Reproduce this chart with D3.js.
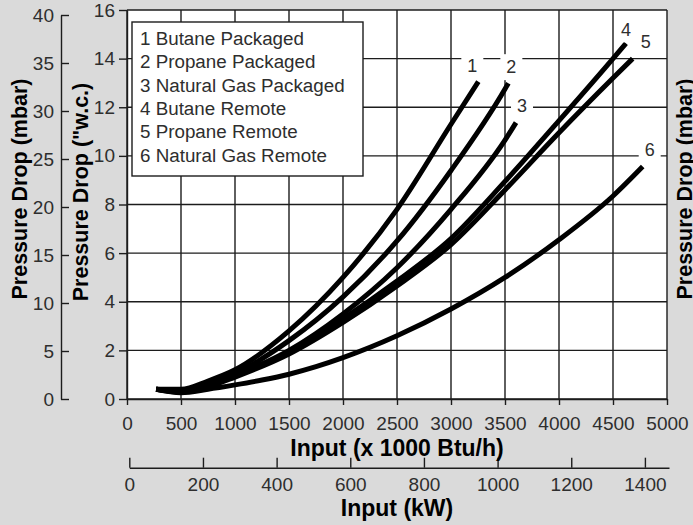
<!DOCTYPE html>
<html>
<head>
<meta charset="utf-8">
<script src="https://cdn.jsdelivr.net/npm/d3@7"></script>
<style>
  html, body { margin: 0; padding: 0; background: #dadada; }
  svg { display: block; }
  text { font-family: "Liberation Sans", Arial, Helvetica, sans-serif; }
</style>
</head>
<body>
<svg id="chart" width="693" height="525"></svg>
<script>
// Tick values for the four scales
const btuTicks = [0, 500, 1000, 1500, 2000, 2500, 3000, 3500, 4000, 4500, 5000];
const kwTicks = [0, 200, 400, 600, 800, 1000, 1200, 1400];
const wcTicks = [0, 2, 4, 6, 8, 10, 12, 14, 16];
const mbarTicks = [0, 5, 10, 15, 20, 25, 30, 35, 40];

// Curve numbers and legend names
const curveIds = ["1", "2", "3", "4", "5", "6"];
const curveNames = [
  "Butane Packaged",
  "Propane Packaged",
  "Natural Gas Packaged",
  "Butane Remote",
  "Propane Remote",
  "Natural Gas Remote"
];

// Pressure drop ("w.c.) against input (x 1000 Btu/h)
const butanePackaged = [[270, 0.4], [500, 0.4], [750, 0.74], [1000, 1.2], [1500, 2.8], [2000, 5.0], [2500, 7.8], [3000, 11.3], [3253, 13.05]];
const propanePackaged = [[270, 0.4], [500, 0.36], [750, 0.64], [1000, 1.05], [1500, 2.4], [2000, 4.2], [2500, 6.5], [3000, 9.4], [3500, 12.75], [3531, 12.99]];
const natGasPackaged = [[270, 0.4], [500, 0.3], [750, 0.56], [1000, 0.97], [1500, 2.0], [2000, 3.5], [2500, 5.4], [3000, 7.8], [3500, 10.65], [3602, 11.37]];
const butaneRemote = [[270, 0.4], [500, 0.3], [750, 0.55], [1000, 0.95], [1500, 1.95], [2000, 3.3], [2500, 4.85], [3000, 6.6], [3500, 8.95], [4000, 11.45], [4500, 14.0], [4620, 14.63]];
const propaneRemote = [[270, 0.4], [500, 0.28], [750, 0.5], [1000, 0.9], [1500, 1.85], [2000, 3.15], [2500, 4.65], [3000, 6.35], [3500, 8.6], [4000, 10.95], [4500, 13.2], [4682, 14.0]];
const natGasRemote = [[270, 0.4], [500, 0.26], [750, 0.4], [1000, 0.58], [1250, 0.78], [1500, 1.02], [1750, 1.33], [2000, 1.7], [2500, 2.6], [3000, 3.7], [3500, 5.0], [4000, 6.55], [4500, 8.35], [4775, 9.56]];

const seriesList = [butanePackaged, propanePackaged, natGasPackaged, butaneRemote, propaneRemote, natGasRemote];
// pixel offsets of each curve number from the curve's end
const labelOffsets = [[-6, -16], [3, -16], [6, -17], [0, -14], [13, -17], [7, -17]];

const svg = d3.select("#chart");
const INK = "#1c1c1c";
const TEXT = "#2e2e2e";

const x = d3.scaleLinear().domain([0, 5000]).range([127, 667]);
const y = d3.scaleLinear().domain([0, 16]).range([399, 10]);
const yMbar = d3.scaleLinear().domain([0, 40]).range([399, 15]);
const xKw = d3.scaleLinear().domain([0, 5000 / 3.412]).range([129.3, 669]);

// plot area
svg.append("rect")
  .attr("x", x(0)).attr("y", y(16))
  .attr("width", x(5000) - x(0)).attr("height", y(0) - y(16))
  .attr("fill", "#fff");

// grid
const grid = svg.append("g").attr("stroke", INK).attr("stroke-width", 1.4);
grid.selectAll("line.v").data(btuTicks).join("line")
  .attr("class", "v")
  .attr("x1", d => x(d)).attr("x2", d => x(d))
  .attr("y1", y(0)).attr("y2", y(16));
grid.selectAll("line.h").data(wcTicks).join("line")
  .attr("class", "h")
  .attr("x1", x(0)).attr("x2", x(5000))
  .attr("y1", d => y(d)).attr("y2", d => y(d));

function styleAxis(g) {
  g.selectAll("path.domain").attr("stroke", INK).attr("stroke-width", 1.4);
  g.selectAll(".tick line").attr("stroke", INK).attr("stroke-width", 1.4);
  g.selectAll(".tick text")
    .attr("fill", TEXT)
    .style("font-size", "19px")
    .style("font-family", '"Liberation Sans", Arial, sans-serif');
}

// "w.c. axis
svg.append("g")
  .attr("transform", `translate(${x(0)},0)`)
  .call(d3.axisLeft(y).tickValues(wcTicks).tickSize(8).tickSizeOuter(0).tickPadding(4).tickFormat(d3.format("d")))
  .call(styleAxis);

// mbar axis (ticks to the right, labels to the left)
svg.append("g")
  .attr("transform", "translate(61,0)")
  .call(d3.axisLeft(yMbar).tickValues(mbarTicks).tickSizeInner(-8).tickSizeOuter(0).tickPadding(7).tickFormat(d3.format("d")))
  .call(styleAxis);

// Btu/h axis
svg.append("g")
  .attr("transform", `translate(0,${y(0)})`)
  .call(d3.axisBottom(x).tickValues(btuTicks).tickSize(6).tickSizeOuter(0).tickPadding(11.7).tickFormat(d3.format("d")))
  .call(styleAxis);

// kW axis (ticks upward, labels below)
svg.append("g")
  .attr("transform", "translate(0,467.7)")
  .call(d3.axisBottom(xKw).tickValues(kwTicks).tickSizeInner(-10).tickSizeOuter(0).tickPadding(10.3).tickFormat(d3.format("d")))
  .call(styleAxis);

// curves
const line = d3.line()
  .x(d => x(d[0]))
  .y(d => y(d[1]))
  .curve(d3.curveMonotoneX);

svg.append("g").selectAll("path.curve").data(seriesList).join("path")
  .attr("class", "curve")
  .attr("d", line)
  .attr("fill", "none")
  .attr("stroke", "#000")
  .attr("stroke-width", 5)
  .attr("stroke-linecap", "butt");

// curve numbers on white patches
const labels = svg.append("g").selectAll("g").data(seriesList).join("g")
  .attr("transform", (d, i) => {
    const end = d[d.length - 1];
    return `translate(${x(end[0]) + labelOffsets[i][0]},${y(end[1]) + labelOffsets[i][1]})`;
  });
labels.append("rect")
  .attr("x", -11).attr("y", -13).attr("width", 22).attr("height", 26)
  .attr("fill", "#fff");
labels.append("text")
  .attr("text-anchor", "middle")
  .attr("dy", "0.35em")
  .attr("fill", TEXT)
  .style("font-size", "18px")
  .text((d, i) => curveIds[i]);

// legend
const legend = svg.append("g");
legend.append("rect")
  .attr("x", 132).attr("y", 22).attr("width", 231).attr("height", 154)
  .attr("fill", "#fff").attr("stroke", INK).attr("stroke-width", 1.4);
legend.selectAll("text").data(curveNames).join("text")
  .attr("x", 140)
  .attr("y", (d, i) => 45 + i * 23.3)
  .attr("fill", TEXT)
  .style("font-size", "18.8px")
  .text((d, i) => `${curveIds[i]} ${d}`);

// axis titles
const titleStyle = sel => sel.attr("fill", "#000").style("font-size", "21.5px").style("font-weight", "bold");

svg.append("text")
  .attr("transform", "translate(27,189) rotate(-90)")
  .attr("text-anchor", "middle")
  .call(titleStyle)
  .text("Pressure Drop (mbar)");

svg.append("text")
  .attr("transform", "translate(88,192) rotate(-90)")
  .attr("text-anchor", "middle")
  .call(titleStyle)
  .text("Pressure Drop (\"w.c.)");

svg.append("text")
  .attr("transform", "translate(692,189) rotate(-90)")
  .attr("text-anchor", "middle")
  .call(titleStyle)
  .text("Pressure Drop (mbar)");

svg.append("text")
  .attr("x", (x(0) + x(5000)) / 2).attr("y", 456)
  .attr("text-anchor", "middle")
  .attr("fill", "#000")
  .style("font-size", "23px").style("font-weight", "bold")
  .text("Input (x 1000 Btu/h)");

svg.append("text")
  .attr("x", (x(0) + x(5000)) / 2).attr("y", 516)
  .attr("text-anchor", "middle")
  .attr("fill", "#000")
  .style("font-size", "23px").style("font-weight", "bold")
  .text("Input (kW)");
</script>
</body>
</html>
